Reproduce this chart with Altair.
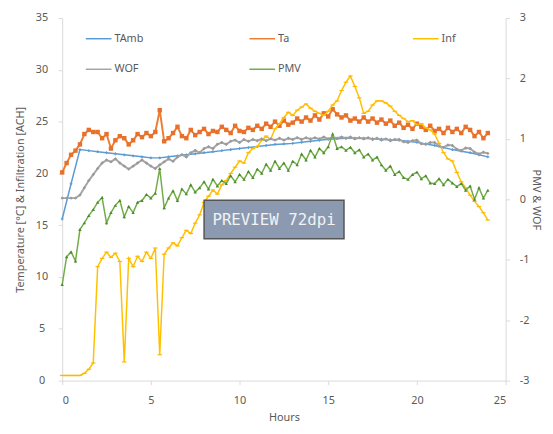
import altair as alt
import pandas as pd

# time grids (hours)
hours = [i * 0.25 for i in range(97)]
hours_amb = [i * 0.5 for i in range(49)]

# left axis series (°C / ACH)
tamb = [15.6, 19.0, 22.3, 22.2, 22.1, 22.0, 21.9, 21.8, 21.7, 21.6,
        21.5, 21.5, 21.6, 21.7, 21.8, 21.9, 22.0, 22.1, 22.2, 22.3,
        22.4, 22.5, 22.6, 22.7, 22.8, 22.85, 22.9, 23.0, 23.1, 23.2,
        23.3, 23.35, 23.4, 23.4, 23.4, 23.35, 23.3, 23.25, 23.2, 23.1,
        23.0, 22.85, 22.7, 22.5, 22.3, 22.15, 22.0, 21.8, 21.6]

ta = [20.1, 21.0, 21.8, 22.2, 22.8, 23.8, 24.2, 24.0, 24.0, 23.4,
      23.8, 22.4, 23.2, 23.6, 23.4, 22.8, 23.2, 23.8, 23.5, 23.9,
      23.6, 24.0, 26.1, 23.1, 23.4, 23.9, 24.5, 23.6, 23.4, 24.2,
      23.7, 24.0, 24.3, 23.8, 24.1, 24.0, 24.5, 24.2, 23.9, 24.6,
      24.1, 24.0, 24.4, 24.2, 24.6, 24.3, 24.8, 24.5, 25.0, 24.6,
      25.1, 24.7, 24.9, 25.3, 25.0, 25.4, 25.1, 25.6, 25.2, 25.8,
      25.5, 26.2, 25.7, 25.4, 25.6, 25.1, 25.3, 25.0, 25.4, 25.0,
      25.3, 24.9, 25.2, 24.8, 25.1, 24.6, 24.9, 24.4, 24.7, 24.3,
      24.8, 24.5, 24.2, 24.6, 24.1, 24.3, 23.9, 24.4, 24.0, 24.3,
      23.9, 24.5, 24.2, 23.6, 24.0, 23.4, 23.9]

inf = [0.5, 0.5, 0.5, 0.5, 0.5, 0.7, 1.1, 1.7, 11.0, 11.8,
       12.4, 11.9, 12.3, 11.5, 1.8, 11.8, 11.0, 12.0, 11.5, 12.4,
       11.8, 12.8, 2.5, 12.2, 12.8, 13.3, 13.0, 13.8, 14.5, 14.2,
       15.2, 16.0, 17.2, 17.8, 18.4, 18.0, 18.9, 19.3, 20.0, 20.6,
       21.2, 21.0, 22.0, 22.4, 22.6, 23.2, 23.6, 23.3, 24.3, 24.8,
       25.4, 25.9, 25.6, 26.1, 26.4, 26.7, 26.3, 26.0, 25.8, 25.6,
       26.0, 26.6, 27.0, 28.0, 28.8, 29.4, 28.4, 27.3, 25.8, 26.0,
       26.6, 27.0, 27.0, 26.8, 26.5, 26.0, 25.6, 25.3, 25.0, 25.1,
       24.7, 24.8, 24.4, 24.2, 23.8, 22.9, 22.0, 21.4, 21.2, 20.1,
       19.2, 18.6, 17.9, 17.3, 16.8, 16.2, 15.5]

# right axis series (PMV & WOF)
wof = [0.02, 0.02, 0.02, 0.02, 0.07, 0.19, 0.31, 0.41, 0.51, 0.60,
       0.65, 0.62, 0.67, 0.60, 0.55, 0.50, 0.55, 0.60, 0.65, 0.60,
       0.55, 0.51, 0.57, 0.62, 0.67, 0.63, 0.70, 0.74, 0.70, 0.77,
       0.81, 0.77, 0.84, 0.87, 0.84, 0.91, 0.94, 0.91, 0.96, 0.98,
       0.94, 0.99, 0.96, 0.99, 0.97, 1.00, 0.97, 1.00, 0.98, 1.01,
       0.98, 1.01, 0.99, 1.02, 0.99, 1.02, 1.00, 1.02, 1.00, 1.03,
       1.00, 1.03, 1.01, 1.03, 1.01, 1.03, 1.00, 1.02, 1.00, 1.02,
       0.99, 1.01, 0.98, 1.00, 0.97, 0.99, 0.99, 0.95, 0.94, 0.97,
       0.98, 0.92, 0.91, 0.94, 0.94, 0.88, 0.86, 0.90, 0.89, 0.83,
       0.81, 0.85, 0.84, 0.78, 0.75, 0.78, 0.76]

pmv = [-1.41, -0.95, -0.87, -1.02, -0.50, -0.39, -0.27, -0.17, -0.05, 0.03,
       -0.39, -0.22, -0.10, -0.02, -0.29, -0.12, -0.22, -0.05, -0.02, 0.08,
       0.02, 0.10, 0.51, -0.14, 0.02, 0.14, -0.02, 0.17, 0.09, 0.24,
       0.12, 0.19, 0.29, 0.17, 0.33, 0.22, 0.31, 0.26, 0.39, 0.29,
       0.41, 0.33, 0.46, 0.36, 0.50, 0.43, 0.58, 0.48, 0.63, 0.51,
       0.60, 0.48, 0.63, 0.57, 0.75, 0.65, 0.81, 0.70, 0.84, 0.77,
       0.87, 1.08, 0.84, 0.87, 0.81, 0.86, 0.77, 0.82, 0.70, 0.75,
       0.65, 0.70, 0.57, 0.48, 0.55, 0.41, 0.46, 0.36, 0.33, 0.41,
       0.45, 0.34, 0.39, 0.27, 0.26, 0.34, 0.24, 0.33, 0.27, 0.21,
       0.26, 0.15, 0.22, 0.00, 0.19, 0.02, 0.15]

series_names = ["TAmb", "Ta", "Inf", "WOF", "PMV"]
series_colors = ["#5B9BD5", "#ED7D31", "#FFC000", "#A5A5A5", "#70AD47"]

x_ticks = [0, 5, 10, 15, 20, 25]
left_ticks = [0, 5, 10, 15, 20, 25, 30, 35]
right_ticks = [-3, -2, -1, 0, 1, 2, 3]

watermark_text = ["PREVIEW 72dpi"]

FONT = "Noto Sans"


def frame(name, xs, ys):
    return pd.DataFrame({"hour": xs, "value": ys, "series": [name] * len(xs)})


X = alt.X("hour:Q", scale=alt.Scale(domain=[0, 25], nice=False),
          axis=alt.Axis(values=x_ticks, title="Hours", labelPadding=10,
                        titlePadding=6))

Y_left = alt.Y("value:Q", scale=alt.Scale(domain=[0, 35], nice=False),
               axis=alt.Axis(values=left_ticks, orient="left",
                             title="Temperature [°C] & Infiltration [ACH]",
                             labelAlign="center", labelPadding=17,
                             titlePadding=10))

Y_right = alt.Y("value:Q", scale=alt.Scale(domain=[-3, 3], nice=False),
                axis=alt.Axis(values=right_ticks, orient="right",
                              title="PMV & WOF", labelAlign="left",
                              labelPadding=10, titlePadding=1,
                              labelExpr="'' + datum.value"))

color = alt.Color("series:N",
                  scale=alt.Scale(domain=series_names, range=series_colors),
                  legend=alt.Legend(orient="none", legendX=23, legendY=7,
                                    columns=3, direction="horizontal",
                                    title=None, symbolType="stroke",
                                    symbolSize=676, symbolStrokeWidth=1.5,
                                    labelFontSize=11, labelColor="#595959",
                                    labelFont=FONT, columnPadding=104,
                                    rowPadding=12, gridAlign="all",
                                    labelOffset=2))


def series_layers(df, Y, width, shape, size, pcolor, filled=True):
    line = alt.Chart(df).mark_line(strokeWidth=width).encode(
        x=X, y=Y, color=color)
    pts = alt.Chart(df).mark_point(shape=shape, size=size, filled=filled,
                                   color=pcolor, opacity=1,
                                   strokeWidth=1.2).encode(x=X, y=Y)
    return [line, pts]


df_tamb = frame("TAmb", hours_amb, tamb)
df_ta = frame("Ta", hours, ta)
df_inf = frame("Inf", hours, inf)
df_wof = frame("WOF", hours, wof)
df_pmv = frame("PMV", hours, pmv)

left = alt.layer(
    *series_layers(df_tamb, Y_left, 1.5, "cross", 8, "#5B9BD5"),
    *series_layers(df_ta, Y_left, 2, "square", 20, "#E8702A"),
    *series_layers(df_inf, Y_left, 1.5, "stroke", 20, "#FFB800", filled=False),
)
right = alt.layer(
    *series_layers(df_wof, Y_right, 2, "diamond", 12, "#9A9A9A"),
    *series_layers(df_pmv, Y_right, 1.5, "triangle-up", 12, "#4E8A30"),
)

wm_df = pd.DataFrame({"label": watermark_text})
wm_rect = alt.Chart(wm_df).mark_rect(fill="#8B9AB1", stroke="#555555",
                                     strokeWidth=1.5).encode(
    x=alt.value(144), x2=alt.value(286), y=alt.value(185), y2=alt.value(224))
wm_text = alt.Chart(wm_df).mark_text(font="DejaVu Sans Mono", fontSize=16,
                                     color="#F2F2F2", baseline="middle",
                                     align="center").encode(
    x=alt.value(215), y=alt.value(205), text="label:N")

chart = alt.layer(left, right, wm_rect, wm_text).resolve_scale(
    y="independent"
).properties(
    width=450, height=368,
    padding={"left": 55, "top": 7, "right": 40, "bottom": 51},
    autosize=alt.AutoSizeParams(type="none"),
).configure_axis(
    domainColor="#D9D9D9", tickColor="#D9D9D9", labelColor="#595959",
    titleColor="#595959", labelFont=FONT, titleFont=FONT, labelFontSize=11,
    titleFontSize=11, titleFontWeight="normal", grid=False, tickSize=4,
).configure_view(stroke=None)

chart.save("out.html", embed_options={"renderer": "svg", "actions": False})
